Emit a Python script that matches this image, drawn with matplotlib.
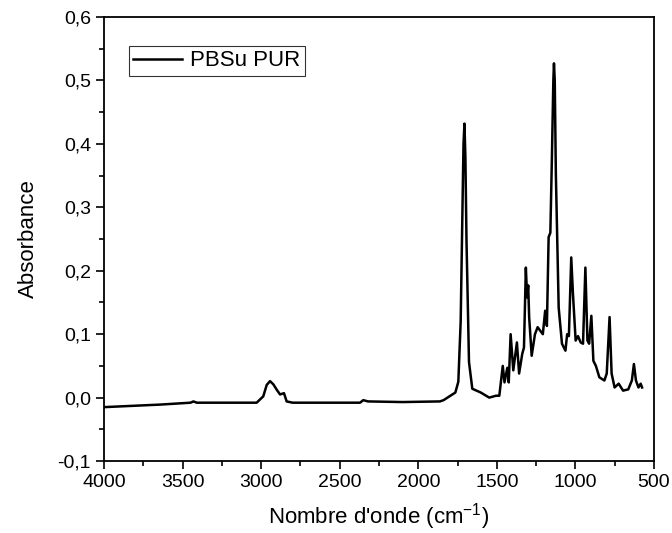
import matplotlib.pyplot as plt
from matplotlib.ticker import MultipleLocator, FuncFormatter

plt.rcParams['font.family'] = ['Liberation Sans', 'DejaVu Sans']

# spectre (nombre d'onde, absorbance)
wavenumber = [4000, 3644, 3450, 3432, 3410, 3029, 2987, 2965, 2944, 2923, 2900, 2880,
              2855, 2838, 2800, 2500, 2371, 2350, 2320, 2100, 1862, 1839, 1764, 1745,
              1730, 1721, 1712, 1706, 1700, 1693, 1677, 1656, 1602, 1548, 1505, 1484, 1462,
              1451, 1433, 1424, 1412, 1395, 1372, 1358, 1338, 1327, 1315, 1307, 1300,
              1294, 1278, 1257, 1240, 1225, 1207, 1192, 1181, 1170, 1159, 1149, 1140,
              1136, 1131, 1124, 1106, 1085, 1063, 1052, 1041, 1026, 1015, 998, 983,
              966, 951, 936, 923, 912, 898, 885, 869, 847, 815, 800, 782, 769, 750,
              724, 696, 663, 640, 627, 614, 598, 584, 575]
absorbance = [-0.015, -0.011, -0.008, -0.006, -0.008, -0.008, 0.002, 0.02, 0.026, 0.021, 0.012,
              0.005, 0.007, -0.006, -0.008, -0.008, -0.008, -0.004, -0.006, -0.007, -0.006,
              -0.004, 0.008, 0.025, 0.12, 0.26, 0.40, 0.432, 0.38, 0.248, 0.056, 0.014, 0.008, 0.0,
              0.003, 0.003, 0.05, 0.024, 0.047, 0.024, 0.1, 0.043, 0.087, 0.038, 0.069,
              0.079, 0.205, 0.158, 0.177, 0.127, 0.066, 0.1, 0.111, 0.106, 0.1, 0.137,
              0.113, 0.253, 0.26, 0.38, 0.5, 0.527, 0.5, 0.353, 0.142, 0.085, 0.074, 0.1,
              0.097, 0.221, 0.163, 0.09, 0.097, 0.087, 0.085, 0.205, 0.09, 0.085, 0.129,
              0.058, 0.05, 0.032, 0.027, 0.038, 0.127, 0.038, 0.016, 0.022, 0.011, 0.013,
              0.027, 0.053, 0.027, 0.016, 0.022, 0.016]

fig = plt.figure(figsize=(6.72, 5.33), dpi=100)
ax = fig.add_axes([0.155, 0.135, 0.818, 0.833])
ax.plot(wavenumber, absorbance, color='black', linewidth=1.8, label='PBSu PUR')

ax.set_xlim(4000, 500)
ax.set_ylim(-0.1, 0.6)
ax.xaxis.set_major_locator(MultipleLocator(500))
ax.xaxis.set_minor_locator(MultipleLocator(250))
ax.yaxis.set_major_locator(MultipleLocator(0.1))
ax.yaxis.set_minor_locator(MultipleLocator(0.05))
ax.yaxis.set_major_formatter(FuncFormatter(lambda v, p: ('%.1f' % v).replace('.', ',').replace('-0,0', '0,0')))
ax.tick_params(which='major', direction='out', length=6, width=1.2, labelsize=14)
ax.tick_params(which='minor', direction='out', length=3.5, width=1.2)
for s in ax.spines.values():
    s.set_linewidth(1.3)

ax.set_xlabel('Nombre d\'onde (cm$^{\\mathregular{-1}}$)', fontsize=16, labelpad=7)
ax.set_ylabel('Absorbance', fontsize=16, labelpad=13)

leg = ax.legend(loc='upper left', fontsize=16, handlelength=2.2, fancybox=False,
                edgecolor='black', borderpad=0.2, handletextpad=0.35,
                bbox_to_anchor=(0.025, 0.96))
leg.get_frame().set_linewidth(0.8)

fig.savefig('out.png', dpi=100)
